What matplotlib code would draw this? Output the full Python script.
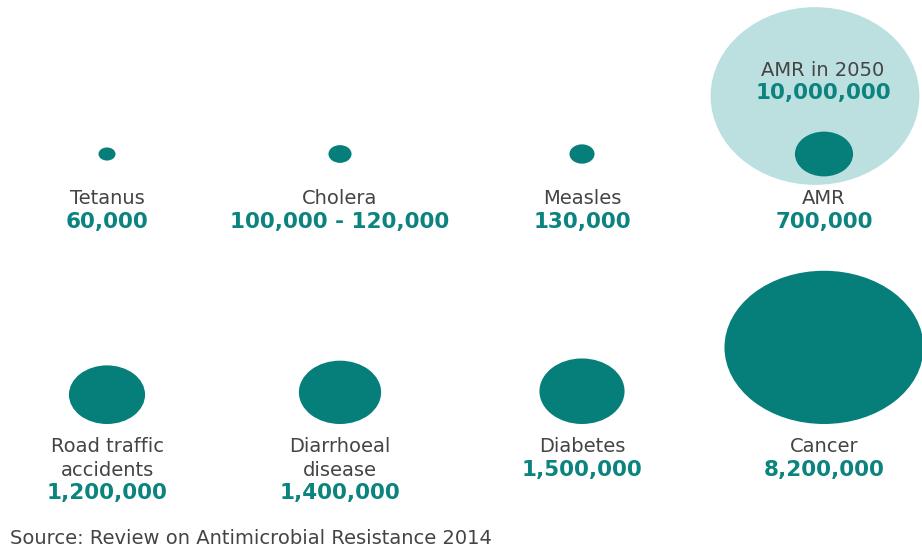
import matplotlib
matplotlib.use('Agg')
import matplotlib.pyplot as plt
from matplotlib.patches import Ellipse
import numpy as np

# the source picture is stretched sideways, DejaVu is the widest face we have
plt.rcParams['font.family'] = ['DejaVu Sans']

# data
top_names = ['Tetanus', 'Cholera', 'Measles', 'AMR']
top_labels = ['60,000', '100,000 - 120,000', '130,000', '700,000']
top_values = [60000, 110000, 130000, 700000]

bottom_names = ['Road traffic\naccidents', 'Diarrhoeal\ndisease', 'Diabetes', 'Cancer']
bottom_labels = ['1,200,000', '1,400,000', '1,500,000', '8,200,000']
bottom_values = [1200000, 1400000, 1500000, 8200000]

future_name = 'AMR in 2050'
future_label = '10,000,000'
future_value = 10000000

source = 'Source: Review on Antimicrobial Resistance 2014'

# style
dark = '#067e79'
val_col = '#0b837e'
light = '#bcdfe0'
grey = '#444444'
k = 0.0695          # px of width per sqrt(death)
squash = 0.77       # picture is stretched horizontally
col_x = [107, 340, 582, 824]
name_fs = 14
val_fs = 15.5


def size(v):
    w = k * np.sqrt(v)
    return w, w * squash


fig = plt.figure(figsize=(9.22, 5.52), dpi=100)
ax = fig.add_axes([0, 0, 1, 1])
ax.set_xlim(0, 922)
ax.set_ylim(552, 0)
ax.axis('off')

# AMR 2050 background bubble
w, h = size(future_value)
ax.add_patch(Ellipse((815, 96), w * 0.95, h * 1.05, color=light, lw=0))
ax.text(823, 70, future_name, ha='center', va='center', fontsize=name_fs, color=grey)
ax.text(823, 93, future_label, ha='center', va='center', fontsize=val_fs,
        color=val_col, fontweight='bold')

# top row (centre aligned)
for x, n, lab, v in zip(col_x, top_names, top_labels, top_values):
    w, h = size(v)
    ax.add_patch(Ellipse((x, 154), w, h, color=dark, lw=0))
    ax.text(x, 198, n, ha='center', va='center', fontsize=name_fs, color=grey)
    ax.text(x, 222, lab, ha='center', va='center', fontsize=val_fs,
            color=val_col, fontweight='bold')

# bottom row (bottom aligned)
for x, n, lab, v in zip(col_x, bottom_names, bottom_labels, bottom_values):
    w, h = size(v)
    ax.add_patch(Ellipse((x, 424 - h / 2), w, h, color=dark, lw=0))
    lines = n.split('\n')
    for i, line in enumerate(lines):
        ax.text(x, 447 + 23 * i, line, ha='center', va='center',
                fontsize=name_fs, color=grey)
    ax.text(x, 447 + 23 * len(lines), lab, ha='center', va='center',
            fontsize=val_fs, color=val_col, fontweight='bold')

ax.text(10, 538, source, ha='left', va='center', fontsize=14, color=grey)

plt.savefig('out.png', dpi=100)
